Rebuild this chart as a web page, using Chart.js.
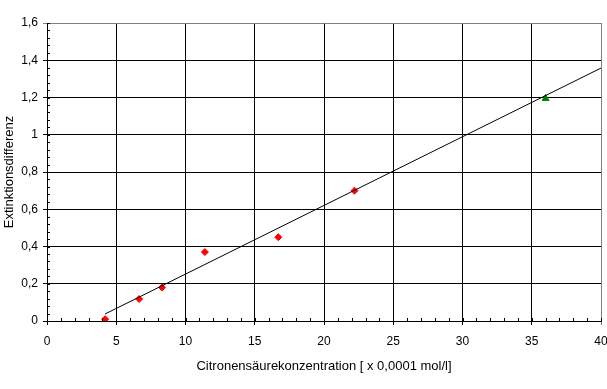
<!DOCTYPE html>
<html>
<head>
<meta charset="utf-8">
<script src="https://cdn.jsdelivr.net/npm/chart.js@4"></script>
<style>
  html, body { margin: 0; padding: 0; background: #fff; }
  #wrap { width: 607px; height: 389px; }
</style>
</head>
<body>
<div id="wrap"><canvas id="c" width="607" height="389"></canvas></div>
<script>
// Messwerte (rot) und Kontrollpunkt (grün)
const xWerte = [4.2, 6.65, 8.3, 11.4, 16.7, 22.2];
const yWerte = [0.01, 0.118, 0.18, 0.37, 0.45, 0.70];
const xKontrolle = [36.0];
const yKontrolle = [1.195];
// Regressionsgerade (Endpunkte)
const xGerade = [4.2, 40];
const yGerade = [0.038, 1.358];

const FONT = "'Liberation Sans Narrow', 'Liberation Sans', Arial, sans-serif";

const pts = (xs, ys) => xs.map((x, i) => ({ x, y: ys[i] }));

// kleine Hilfsstriche auf den Achsen
const minorTicks = {
  id: 'minorTicks',
  afterDraw(chart) {
    const { ctx, scales: { x, y } } = chart;
    ctx.save();
    ctx.strokeStyle = '#000';
    ctx.lineWidth = 1;
    ctx.beginPath();
    for (let v = 0; v <= 40; v += 1) {
      const px = Math.round(x.getPixelForValue(v)) + 0.5;
      ctx.moveTo(px, y.bottom);
      ctx.lineTo(px, y.bottom - 3);
    }
    for (let i = 0; i <= 40; i++) {
      const py = Math.round(y.getPixelForValue(i * 0.04)) + 0.5;
      ctx.moveTo(x.left, py);
      ctx.lineTo(x.left + 3, py);
    }
    ctx.stroke();
    ctx.restore();
  }
};

new Chart(document.getElementById('c'), {
  type: 'scatter',
  data: {
    datasets: [
      {
        label: 'Gerade',
        type: 'line',
        data: pts(xGerade, yGerade),
        borderColor: '#000',
        borderWidth: 1,
        pointRadius: 0,
        fill: false
      },
      {
        label: 'Messwerte',
        data: pts(xWerte, yWerte),
        pointStyle: 'rectRot',
        pointRadius: 3.5,
        backgroundColor: '#ff0000',
        borderColor: '#ff0000'
      },
      {
        label: 'Kontrolle',
        data: pts(xKontrolle, yKontrolle),
        pointStyle: 'triangle',
        pointRadius: 4,
        backgroundColor: '#008000',
        borderColor: '#008000'
      }
    ]
  },
  options: {
    responsive: false,
    animation: false,
    layout: { padding: { top: 23, right: 6, left: 0, bottom: 0 } },
    plugins: { legend: { display: false }, tooltip: { enabled: false } },
    scales: {
      x: {
        type: 'linear',
        min: 0, max: 40,
        afterFit: s => { s.height = 68; s.paddingRight = 0; s.paddingLeft = 0; },
        border: { color: '#000', width: 1 },
        grid: {
          color: c => c.tick.value === 40 ? '#808080' : '#000',
          lineWidth: 1,
          tickLength: 4
        },
        ticks: {
          stepSize: 5,
          color: '#000',
          padding: 9,
          maxRotation: 0,
          font: { family: FONT, size: 12 }
        },
        title: {
          display: true,
          text: 'Citronensäurekonzentration [ x 0,0001 mol/l]',
          color: '#000',
          font: { family: FONT, size: 13 },
          padding: { top: 4, bottom: 15 }
        }
      },
      y: {
        min: 0, max: 1.6,
        afterFit: s => { s.width = 47; s.paddingTop = 0; s.paddingBottom = 0; },
        border: { color: '#000', width: 1 },
        grid: {
          color: c => Math.abs(c.tick.value - 1.6) < 1e-9 ? '#808080' : '#000',
          lineWidth: 1,
          tickLength: 4
        },
        ticks: {
          stepSize: 0.2,
          color: '#000',
          padding: 5,
          font: { family: FONT, size: 12 },
          callback: v => (Math.round(v * 10) / 10).toString().replace('.', ',')
        },
        title: {
          display: true,
          text: 'Extinktionsdifferenz',
          color: '#000',
          font: { family: FONT, size: 13 },
          padding: { top: 2, bottom: 0 }
        }
      }
    }
  },
  plugins: [minorTicks]
});
</script>
</body>
</html>
